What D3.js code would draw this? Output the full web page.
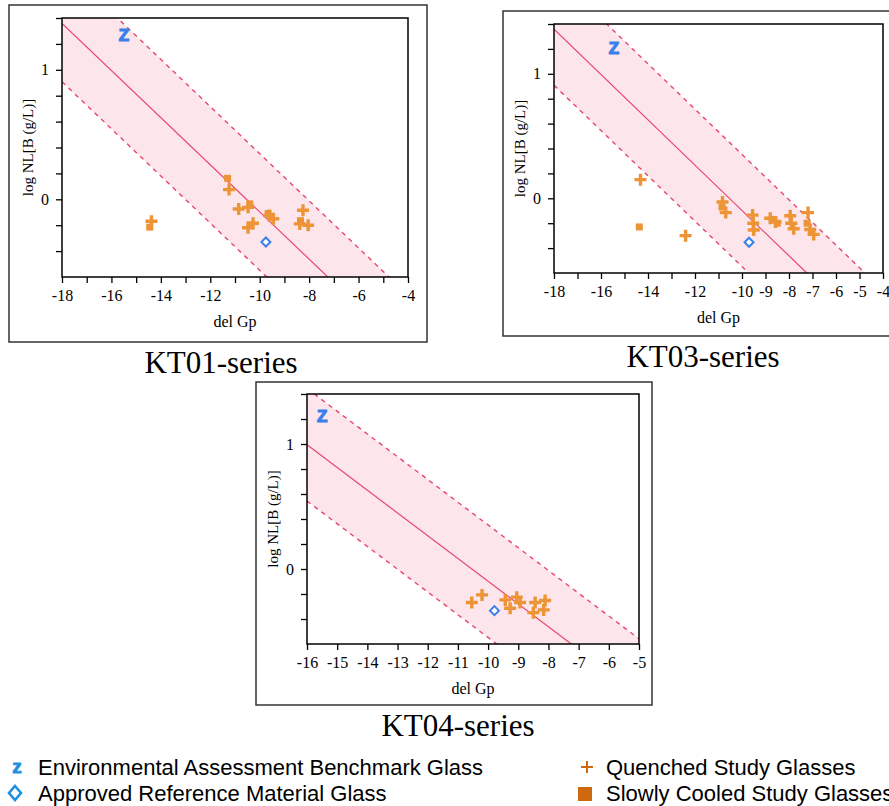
<!DOCTYPE html>
<html>
<head>
<meta charset="utf-8">
<script src="https://cdn.jsdelivr.net/npm/d3@7"></script>
<style>
  body { margin: 0; background: #fff; }
  svg { display: block; }
  .tick text { font-family: "Liberation Serif", "Times New Roman", serif; font-size: 16px; fill: #000; }
</style>
</head>
<body>
<div id="chart"></div>
<script>
// fitted trend: logNL = slope * delGp + intercept, band = +/- halfWidth
var fitLine = [-0.182, -1.918];
var bandHalfWidth = 0.45;

var yLabels = [0, 1];
var kt01XLabels = [-18, -16, -14, -12, -10, -8, -6, -4];
var kt03XLabels = [-18, -16, -14, -12, -10, -9, -8, -7, -6, -5, -4];
var kt04XLabels = [-16, -15, -14, -13, -12, -11, -10, -9, -8, -7, -6, -5];

// [delGp, logNL]
var kt01Benchmark = [[-15.49, 1.27]];
var kt01Reference = [[-9.75, -0.33]];
var kt01Quenched = [[-14.38, -0.17], [-11.24, 0.075], [-10.85, -0.075], [-10.47, -0.062], [-10.47, -0.22],
  [-10.27, -0.185], [-9.62, -0.125], [-9.45, -0.15], [-8.25, -0.085], [-8.38, -0.19], [-8.04, -0.2]];
var kt01Cooled = [[-14.45, -0.215], [-11.3, 0.162], [-10.4, -0.035], [-10.38, -0.2], [-9.66, -0.11],
  [-9.52, -0.14], [-8.35, -0.165]];

var kt03Benchmark = [[-15.45, 1.21]];
var kt03Reference = [[-9.7, -0.353]];
var kt03Quenched = [[-14.32, 0.15], [-12.4, -0.3], [-10.83, -0.03], [-10.69, -0.115], [-9.55, -0.135],
  [-9.52, -0.2], [-9.5, -0.255], [-8.8, -0.16], [-8.57, -0.19], [-7.95, -0.14], [-7.9, -0.2],
  [-7.8, -0.245], [-7.19, -0.115], [-7.1, -0.25], [-6.95, -0.29]];
var kt03Cooled = [[-14.37, -0.23], [-10.85, -0.07], [-8.65, -0.17], [-8.5, -0.2], [-7.23, -0.2], [-7.05, -0.27]];

var kt04Benchmark = [[-15.5, 1.23]];
var kt04Reference = [[-9.79, -0.333]];
var kt04Quenched = [[-10.54, -0.268], [-10.2, -0.207], [-9.43, -0.247], [-9.27, -0.314], [-9.05, -0.225],
  [-8.94, -0.268], [-8.5, -0.349], [-8.44, -0.268], [-8.11, -0.252], [-8.16, -0.327]];
var kt04Cooled = [];

var legendNames = ["Environmental Assessment Benchmark Glass", "Approved Reference Material Glass",
  "Quenched Study Glasses", "Slowly Cooled Study Glasses"];

var W = 889, H = 806;
var orange = "#ec9436", blue = "#3b80ea", lineRed = "#e8466c", bandFill = "#fde6eb";

var svg = d3.select("#chart").append("svg").attr("width", W).attr("height", H);

function drawPanel(p, idx){
  var g = svg.append("g");
  g.append("rect")
    .attr("x", p.frame[0]).attr("y", p.frame[1])
    .attr("width", p.frame[2] - p.frame[0]).attr("height", p.frame[3] - p.frame[1])
    .attr("fill", "none").attr("stroke", "#333").attr("stroke-width", 1.5);

  var x = d3.scaleLinear().domain(p.xDomain).range([p.plot[0], p.plot[2]]);
  var y = d3.scaleLinear().domain([-0.6, 1.4]).range([p.plot[3], p.plot[1]]);

  var clipId = "clip" + idx;
  g.append("clipPath").attr("id", clipId).append("rect")
    .attr("x", p.plot[0]).attr("y", p.plot[1])
    .attr("width", p.plot[2] - p.plot[0]).attr("height", p.plot[3] - p.plot[1]);

  var inner = g.append("g").attr("clip-path", "url(#" + clipId + ")");
  var fit = function(v, off){ return fitLine[0] * v + fitLine[1] + off; };
  var xs = p.xDomain;

  var band = d3.area()
    .x(function(d){ return x(d); })
    .y0(function(d){ return y(fit(d, -bandHalfWidth)); })
    .y1(function(d){ return y(fit(d, bandHalfWidth)); });
  inner.append("path").datum(xs).attr("d", band).attr("fill", bandFill);

  var line = function(off){
    return d3.line().x(function(d){ return x(d); }).y(function(d){ return y(fit(d, off)); });
  };
  inner.append("path").datum(xs).attr("d", line(0)).attr("fill", "none")
    .attr("stroke", lineRed).attr("stroke-width", 1.2);
  [-bandHalfWidth, bandHalfWidth].forEach(function(off){
    inner.append("path").datum(xs).attr("d", line(off)).attr("fill", "none")
      .attr("stroke", lineRed).attr("stroke-width", 1.4).attr("stroke-dasharray", "4.5,4.5");
  });

  // squares
  inner.selectAll(".sq").data(p.cooled).enter().append("rect")
    .attr("x", function(d){ return x(d[0]) - 3.5; })
    .attr("y", function(d){ return y(d[1]) - 3.5; })
    .attr("width", 7).attr("height", 7).attr("fill", orange);
  // pluses
  inner.selectAll(".pl").data(p.quenched).enter().append("path")
    .attr("d", function(d){
      var cx = x(d[0]), cy = y(d[1]), r = 6;
      return "M" + (cx - r) + "," + cy + "H" + (cx + r) + "M" + cx + "," + (cy - r) + "V" + (cy + r);
    })
    .attr("stroke", orange).attr("stroke-width", 3.4).attr("fill", "none");
  // diamonds
  inner.selectAll(".dm").data(p.reference).enter().append("path")
    .attr("d", function(d){
      var cx = x(d[0]), cy = y(d[1]), r = 4.5;
      return "M" + cx + "," + (cy - r) + "L" + (cx + r) + "," + cy + "L" + cx + "," + (cy + r) + "L" + (cx - r) + "," + cy + "Z";
    })
    .attr("stroke", blue).attr("stroke-width", 2).attr("fill", "#fff");
  // benchmark "Z"
  inner.selectAll(".zz").data(p.benchmark).enter().append("text")
    .attr("x", function(d){ return x(d[0]); })
    .attr("y", function(d){ return y(d[1]) + 6.5; })
    .attr("text-anchor", "middle")
    .style("font-family", "Liberation Sans, Arial, sans-serif")
    .style("font-weight", "bold").style("font-size", "17px")
    .attr("fill", blue).attr("stroke", blue).attr("stroke-width", 1.2).text("Z");

  // axes
  var xAxis = d3.axisBottom(x).tickValues(d3.range(p.xDomain[0], p.xDomain[1] + 0.5, 1))
    .tickSize(6).tickPadding(7)
    .tickFormat(function(d){ return p.xLabels.indexOf(d) >= 0 ? d : ""; });
  g.append("g").attr("transform", "translate(0," + p.plot[3] + ")").call(xAxis)
    .call(function(a){ a.select(".domain").remove(); });

  var yAxis = d3.axisLeft(y).tickValues(d3.range(-0.4, 1.41, 0.2).map(function(v){ return Math.round(v * 10) / 10; }))
    .tickSize(6).tickPadding(7)
    .tickFormat(function(d){ return yLabels.indexOf(d) >= 0 ? d : ""; });
  g.append("g").attr("transform", "translate(" + p.plot[0] + ",0)").call(yAxis)
    .call(function(a){ a.select(".domain").remove(); });
  g.selectAll(".tick line").attr("stroke", "#000").attr("stroke-width", 1.3);

  g.append("rect")
    .attr("x", p.plot[0]).attr("y", p.plot[1])
    .attr("width", p.plot[2] - p.plot[0]).attr("height", p.plot[3] - p.plot[1])
    .attr("fill", "none").attr("stroke", "#000").attr("stroke-width", 1.5);

  var serif = "Liberation Serif, Times New Roman, serif";
  g.append("text")
    .attr("x", (p.plot[0] + p.plot[2]) / 2).attr("y", p.plot[3] + 50)
    .attr("text-anchor", "middle").style("font-family", serif).style("font-size", "16px")
    .text("del Gp");
  g.append("text")
    .attr("transform", "translate(" + (p.plot[0] - 29) + "," + ((p.plot[1] + p.plot[3]) / 2) + ") rotate(-90)")
    .attr("text-anchor", "middle").style("font-family", serif).style("font-size", "15px")
    .text("log NL[B (g/L)]");
  g.append("text")
    .attr("x", p.titleX).attr("y", p.frame[3] + 31)
    .attr("text-anchor", "middle").style("font-family", serif).style("font-size", "31px")
    .text(p.title);
}

var panels = [
  {title: "KT01-series", titleX: 221, frame: [9, 5, 427, 342], plot: [62, 18, 408, 277], xDomain: [-18, -4],
    xLabels: kt01XLabels, benchmark: kt01Benchmark, reference: kt01Reference, quenched: kt01Quenched, cooled: kt01Cooled},
  {title: "KT03-series", titleX: 703, frame: [503, 11, 895, 336], plot: [554, 24, 883, 273], xDomain: [-18, -4],
    xLabels: kt03XLabels, benchmark: kt03Benchmark, reference: kt03Reference, quenched: kt03Quenched, cooled: kt03Cooled},
  {title: "KT04-series", titleX: 458, frame: [256, 382, 652, 705], plot: [307, 394, 639, 644], xDomain: [-16, -5],
    xLabels: kt04XLabels, benchmark: kt04Benchmark, reference: kt04Reference, quenched: kt04Quenched, cooled: kt04Cooled}
];
panels.forEach(drawPanel);

// legend
var lg = svg.append("g").style("font-family", "Liberation Sans, Arial, sans-serif").style("font-size", "22px");
var legendPos = [[38, 775], [38, 801], [606, 775], [606, 801]];
legendNames.forEach(function(name, i){
  lg.append("text").attr("x", legendPos[i][0]).attr("y", legendPos[i][1]).attr("fill", "#000")
    .attr("textLength", null).text(name);
});
var cyan = "#1f8fe0", brown = "#d0680f";
lg.append("text").attr("x", 17).attr("y", 773).attr("text-anchor", "middle")
  .style("font-weight", "bold").style("font-size", "19px").attr("fill", cyan)
  .attr("stroke", cyan).attr("stroke-width", 0.8).text("z");
lg.append("path").attr("d", "M15,786L21,793L15,800L9,793Z")
  .attr("fill", "none").attr("stroke", cyan).attr("stroke-width", 2.6);
lg.append("path").attr("d", "M581,767H593M587,761V773")
  .attr("stroke", brown).attr("stroke-width", 2);
lg.append("rect").attr("x", 578).attr("y", 787).attr("width", 14).attr("height", 14).attr("fill", brown);
</script>
</body>
</html>
